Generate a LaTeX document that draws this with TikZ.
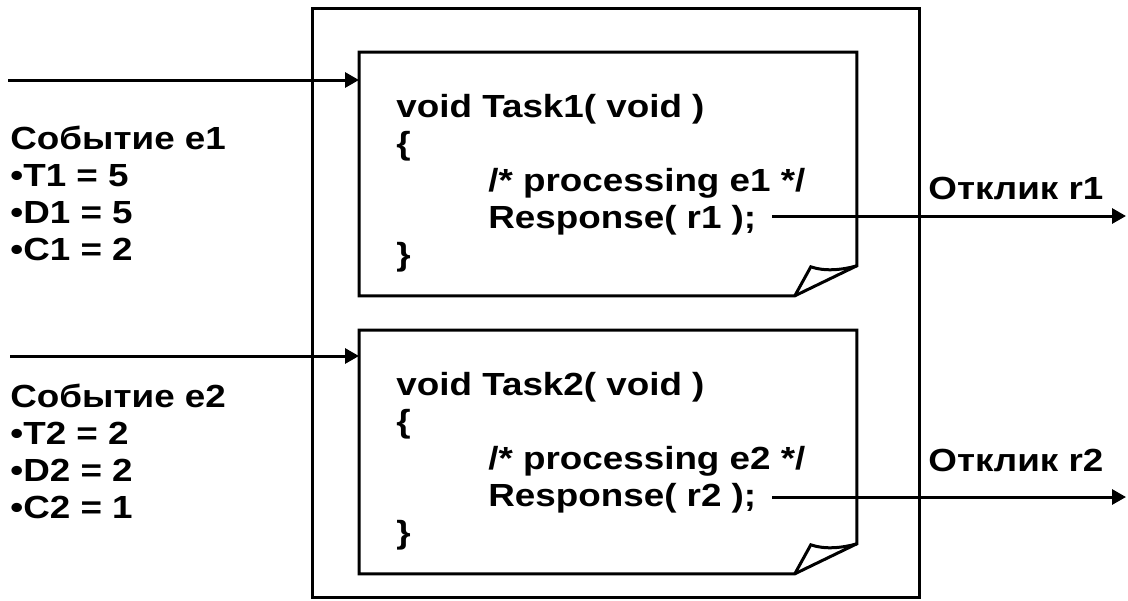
\documentclass[tikz,border=0pt]{standalone}
\usepackage{fontspec}
\setmainfont{Liberation Sans}[FakeStretch=1.15]
\usetikzlibrary{positioning, arrows.meta}
\tikzset{
	every node/.style={font=\bfseries\fontsize{16}{18.5}\selectfont, inner sep=0pt}, % wide Arial-like bold text
	frame/.style={line width=1.5pt},
	flow/.style={line width=1.5pt, -{Triangle[length=7pt, width=7.5pt]}},
	code/.style={align=left, anchor=base west}, % base = last line
	event/.style={align=left, anchor=base west},
}
\newcommand{\docoutline}[1]{% folded sheet around a task node
	\draw[frame] (#1.north west) -- (#1.north east) -- ([yshift=15pt]#1.south east)
		-- ([xshift=-31pt]#1.south east) -- (#1.south west) -- cycle;
	\draw[frame] ([xshift=-31pt]#1.south east) -- ([xshift=-23pt, yshift=14.5pt]#1.south east)
		.. controls ([xshift=-16pt, yshift=12pt]#1.south east) and ([xshift=-7pt, yshift=13pt]#1.south east) .. ([yshift=15pt]#1.south east);
}

\begin{document}
\begin{tikzpicture}[x=0.5pt, y=-0.5pt]
	\useasboundingbox (0,0) rectangle (1128,600);
	% system
	\draw[frame] (312,8) rectangle (919,597);
	\node[minimum width=248.5pt, minimum height=121.5pt, anchor=north west] (task1) at (359,52) {};
	\node[minimum width=248.5pt, minimum height=121.5pt, anchor=north west] (task2) at (359,330) {};
	\docoutline{task1}
	\docoutline{task2}
	% task code
	\node[code] (code1) at (396,265) {void Task1( void )\\ \{\\ \hspace*{46pt}/* processing e1 */\\ \hspace*{46pt}Response( r1 );\\ \}};
	\node[code] (code2) at (396,543) {void Task2( void )\\ \{\\ \hspace*{46pt}/* processing e2 */\\ \hspace*{46pt}Response( r2 );\\ \}};
	% events
	\node[event] (ev1) at (10,260) {Событие e1\\ •T1 = 5\\ •D1 = 5\\ •C1 = 2};
	\node[event] (ev2) at (10,518) {Событие e2\\ •T2 = 2\\ •D2 = 2\\ •C2 = 1};
	\coordinate (in1) at (8,80);
	\coordinate (in2) at (10,356);
	\draw[flow] (in1) -- (in1 -| task1.west);
	\draw[flow] (in2) -- (in2 -| task2.west);
	% responses
	\node[anchor=base west] (out1) at (928,199) {Отклик r1};
	\node[anchor=base west] (out2) at (928,471) {Отклик r2};
	\coordinate (r1s) at (772,216);
	\coordinate (r1e) at (1126,216);
	\coordinate (r2s) at (772,497);
	\coordinate (r2e) at (1126,497);
	\draw[flow] (r1s) -- (r1e);
	\draw[flow] (r2s) -- (r2e);
\end{tikzpicture}
\end{document}
